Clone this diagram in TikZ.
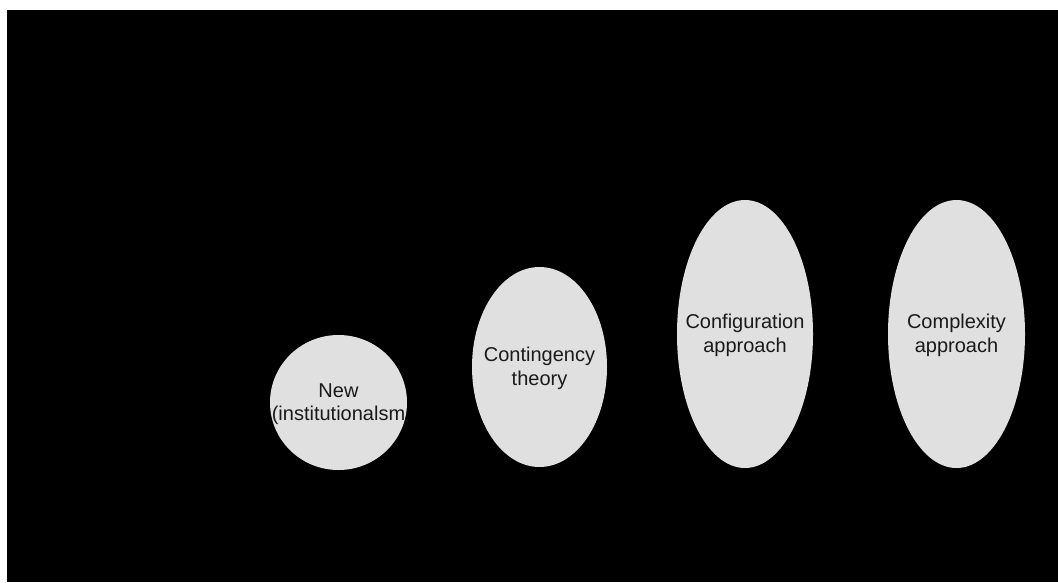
\documentclass[tikz,border=0pt]{standalone}
\usepackage{fontspec}
\setmainfont{Liberation Sans}
\usetikzlibrary{shapes.geometric}
\definecolor{ellfill}{HTML}{E0E0E0}
\definecolor{txtcol}{HTML}{1A1A1A}
\begin{document}
\begin{tikzpicture}[x=1pt,y=-1pt,
  ell/.style={ellipse,fill=ellfill,draw=none,inner sep=0pt},
  lbl/.style={align=center,text=txtcol,inner sep=0pt,font=\fontsize{20}{23.5}\selectfont}]
\useasboundingbox (0,0) rectangle (1058,582);
\fill[white] (0,0) rectangle (1058,582);
\fill[black] (7,10) rectangle (1058,582);
\node[ell,minimum width=137pt,minimum height=135pt] (e1) at (338.5,402.5) {};
\node[ell,minimum width=135pt,minimum height=200pt] (e2) at (539.5,367) {};
\node[ell,minimum width=136pt,minimum height=268pt] (e3) at (745,334) {};
\node[ell,minimum width=137pt,minimum height=268pt] (e4) at (956.5,334) {};
\node[lbl] (t1) at ([yshift=-1.5pt]e1) {New\\(institutionalsm};
\node[lbl] (t2) at ([yshift=-1.5pt]e2) {Contingency\\theory};
\node[lbl] (t3) at ([yshift=-1.5pt]e3) {Configuration\\approach};
\node[lbl] (t4) at ([yshift=-1.5pt]e4) {Complexity\\approach};
\end{tikzpicture}
\end{document}
